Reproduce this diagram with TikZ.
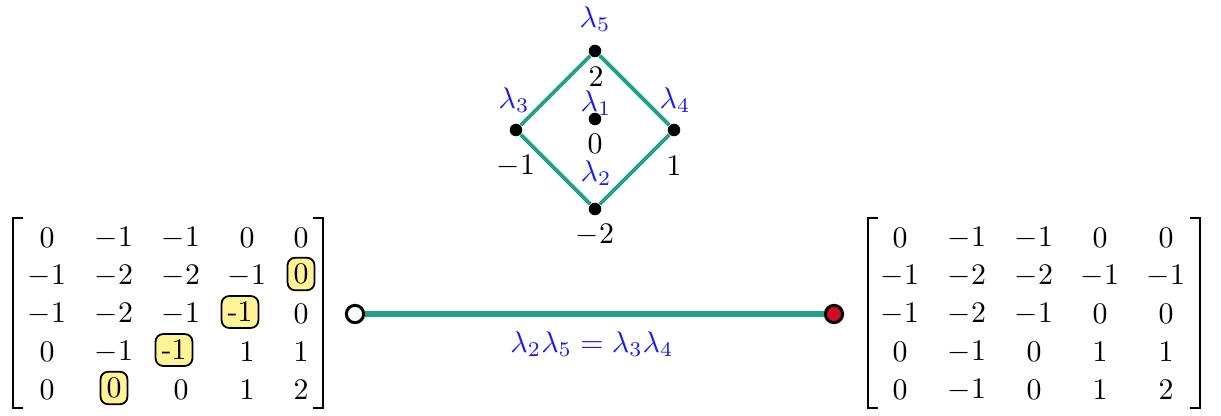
\documentclass[tikz,border=0pt]{standalone}
\definecolor{edgeteal}{RGB}{34,160,140}
\definecolor{hlyellow}{RGB}{255,243,150}
\definecolor{dotred}{RGB}{210,10,30}
\definecolor{lblue}{RGB}{25,25,250}
\tikzset{
  entry/.style={inner sep=0pt, anchor=center},
  hl/.style={draw=black, fill=hlyellow, rounded corners=2.5pt, inner sep=2pt, line width=0.6pt},
  vdot/.style={circle, fill=black, inner sep=0pt, minimum size=4.2pt},
  lbl/.style={text=lblue, inner sep=0pt},
  num/.style={inner sep=0pt},
  dedge/.style={edgeteal, line width=1.3pt},
  bigedge/.style={edgeteal, line width=2.1pt},
  bracket/.style={line width=0.8pt},
  opendot/.style={circle, draw=black, fill=white, line width=1pt, inner sep=0pt, minimum size=5.8pt},
  reddot/.style={circle, draw=black, fill=dotred, line width=1pt, inner sep=0pt, minimum size=5.8pt},
}
\begin{document}
\begin{tikzpicture}[x=0.335pt,y=-0.335pt]
\useasboundingbox (0,0) rectangle (1221,416);
% diamond
\node[vdot] (t) at (595,51) {};
\node[vdot] (l) at (516,130) {};
\node[vdot] (r) at (674,130) {};
\node[vdot] (b) at (595,209) {};
\node[vdot] (c) at (595,119) {};
\draw[dedge] (t) -- (l) -- (b) -- (r) -- (t);
\node[lbl] (lam5) at (595,19) {$\lambda_5$};
\node[lbl] (lam3) at (514,100) {$\lambda_3$};
\node[lbl] (lam4) at (675,100) {$\lambda_4$};
\node[lbl] (lam1) at (596,103) {$\lambda_1$};
\node[lbl] (lam2) at (596,173) {$\lambda_2$};
\node[num] (n2) at (596,77) {$2$};
\node[num] (n0) at (595,144) {$0$};
\node[num] (nm1) at (516,166) {$-1$};
\node[num] (n1) at (674,166) {$1$};
\node[num] (nm2) at (595,235) {$-2$};
% edge between matrices
\node[opendot] (p) at (355,314) {};
\node[reddot] (q) at (834,314) {};
\draw[bigedge] (p) -- (q);
\node[lbl] (rel) at (592,344) {$\lambda_2\lambda_5=\lambda_3\lambda_4$};
% left matrix
\draw[bracket] (23,218) -- (13,218) -- (13,408) -- (23,408);
\draw[bracket] (313,218) -- (323,218) -- (323,408) -- (313,408);
\foreach \row [count=\r] in {{0,-1,-1,0,0},{-1,-2,-2,-1,0},{-1,-2,-1,-1,0},{0,-1,-1,1,1},{0,0,0,1,2}}{
  \foreach \v [count=\c] in \row {
    \pgfmathsetmacro\xx{{47,114,181,247,301}[\c-1]}
    \pgfmathsetmacro\yy{238+38*(\r-1)}
    \pgfmathtruncatemacro\ishl{((\r+\c)==7)&&(\r>1)}
    \pgfmathtruncatemacro\isneg{(\v<0)}
    \ifnum\ishl=1
      \ifnum\isneg=1
        \node[hl] (L\r\c) at (\xx-7,\yy-2) {\v};
      \else
        \node[hl] (L\r\c) at (\xx,\yy-2) {\v};
      \fi
    \else
      \node[entry] (L\r\c) at (\xx,\yy) {$\v$};
    \fi
  }
}
% right matrix
\draw[bracket] (878,218) -- (868,218) -- (868,408) -- (878,408);
\draw[bracket] (1190,218) -- (1200,218) -- (1200,408) -- (1190,408);
\foreach \row [count=\r] in {{0,-1,-1,0,0},{-1,-2,-2,-1,-1},{-1,-2,-1,0,0},{0,-1,0,1,1},{0,-1,0,1,2}}{
  \foreach \v [count=\c] in \row {
    \pgfmathsetmacro\xx{{900,967,1034,1100,1166}[\c-1]}
    \pgfmathsetmacro\yy{238+38*(\r-1)}
    \node[entry] (R\r\c) at (\xx,\yy) {$\v$};
  }
}
\end{tikzpicture}
\end{document}
